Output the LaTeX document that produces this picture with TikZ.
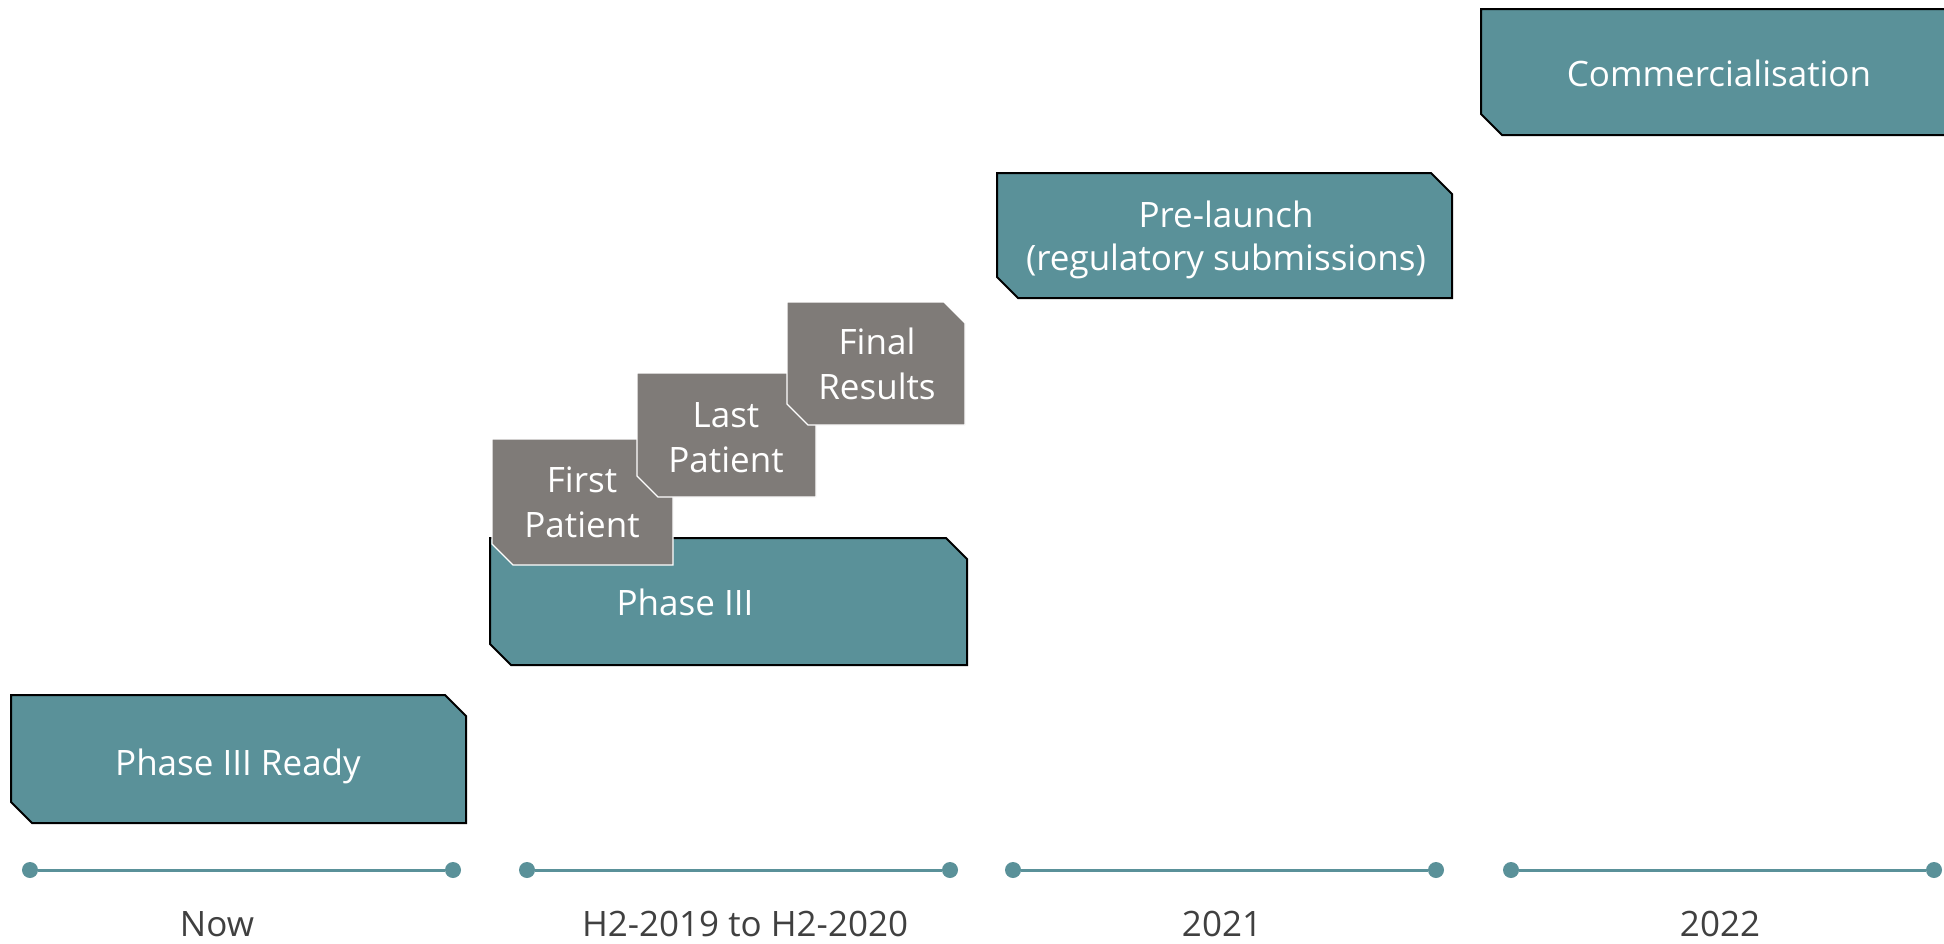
\documentclass[tikz,border=0pt]{standalone}
\usepackage{fontspec}
\setmainfont{Open Sans}
\definecolor{teal1}{HTML}{5A9199}
\definecolor{grey1}{HTML}{7F7B78}
\definecolor{lab}{HTML}{404040}
\newcommand\snipbox[6]{\draw[#6] (#1,#2) -- ({#3-#5},#2) -- (#3,{#2+#5}) -- (#3,#4) -- ({#1+#5},#4) -- (#1,{#4-#5}) -- cycle;}
\tikzset{
  tealbox/.style={fill=teal1,draw=black,line width=1pt,line join=miter},
  greybox/.style={fill=grey1,draw=white,line width=0.6pt},
  boxtext/.style={text=white,font=\fontsize{17.5}{22.5}\selectfont,anchor=base,align=center,inner sep=0pt},
  labtext/.style={text=lab,font=\fontsize{17.5}{22.5}\selectfont,anchor=base,inner sep=0pt},
  tdot/.style={circle,fill=teal1,minimum size=8pt,inner sep=0pt},
  tline/.style={draw=teal1,line width=1.5pt}
}
\begin{document}
\begin{tikzpicture}[x=0.5pt,y=-0.5pt]
\useasboundingbox (0,0) rectangle (1944,943);
\clip (0,0) rectangle (1944,943);
% boxes
\snipbox{11}{695}{466}{823}{21}{tealbox}
\node[boxtext] (ready) at (238,775) {Phase III Ready};
\snipbox{490}{538}{967}{665}{21}{tealbox}
\node[boxtext] (p3) at (685,615) {Phase III};
\snipbox{492}{439}{673}{565}{21}{greybox}
\node[boxtext] (first) at (582,537) {First\\Patient};
\snipbox{637}{373}{816}{497}{21}{greybox}
\node[boxtext] (last) at (726,472) {Last\\Patient};
\snipbox{787}{302}{965}{425}{21}{greybox}
\node[boxtext] (final) at (877,399) {Final\\Results};
\snipbox{997}{173}{1452}{298}{21}{tealbox}
\node[boxtext,font=\fontsize{17.5}{21.5}\selectfont] (pre) at (1226,270) {Pre-launch\\(regulatory submissions)};
\snipbox{1481}{9}{1985}{135}{21}{tealbox}
\node[boxtext] (comm) at (1719,86) {Commercialisation};
% timelines
\node[tdot] (a1) at (30,870) {};
\node[tdot] (a2) at (453,870) {};
\node[tdot] (b1) at (527,870) {};
\node[tdot] (b2) at (950,870) {};
\node[tdot] (c1) at (1013,870) {};
\node[tdot] (c2) at (1436,870) {};
\node[tdot] (d1) at (1511,870) {};
\node[tdot] (d2) at (1934,870) {};
\draw[tline] (a1) -- (a2);
\draw[tline] (b1) -- (b2);
\draw[tline] (c1) -- (c2);
\draw[tline] (d1) -- (d2);
\node[labtext] (now) at (217,936) {Now};
\node[labtext] (h2) at (745,936) {H2-2019 to H2-2020};
\node[labtext] (y21) at (1222,936) {2021};
\node[labtext] (y22) at (1720,936) {2022};
\end{tikzpicture}
\end{document}
